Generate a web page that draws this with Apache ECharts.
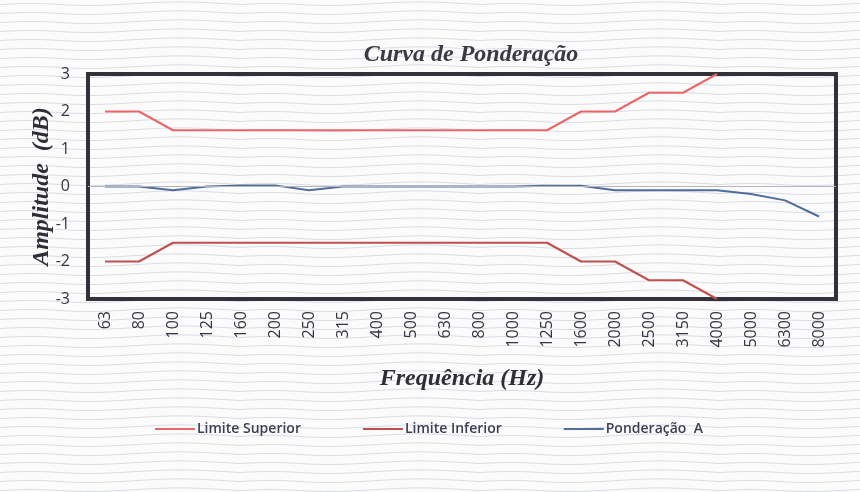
<!DOCTYPE html>
<html>
<head>
<meta charset="utf-8">
<script src="https://cdn.jsdelivr.net/npm/echarts@6/dist/echarts.min.js"></script>
<style>
  html, body { margin: 0; padding: 0; }
  body {
    width: 860px; height: 492px; overflow: hidden;
    background-color: #fbfbfc;
    background-image: url("data:image/svg+xml;utf8,<svg xmlns='http://www.w3.org/2000/svg' width='240' height='9'><path d='M0 4.5 C 60 1, 60 8, 120 4.5 S 180 1, 240 4.5' fill='none' stroke='%23d9dbe3' stroke-width='1'/></svg>");
  }
  #chart { width: 860px; height: 492px; }
</style>
</head>
<body>
<div id="chart"></div>
<script>
// Frequência (Hz) bands
const frequencies = ['63','80','100','125','160','200','250','315','400','500','630','800','1000','1250','1600','2000','2500','3150','4000','5000','6300','8000'];
// Tolerance limits (dB)
const limiteSuperior = [2, 2, 1.5, 1.5, 1.5, 1.5, 1.5, 1.5, 1.5, 1.5, 1.5, 1.5, 1.5, 1.5, 2, 2, 2.5, 2.5, 3, null, null, null];
const limiteInferior = [-2, -2, -1.5, -1.5, -1.5, -1.5, -1.5, -1.5, -1.5, -1.5, -1.5, -1.5, -1.5, -1.5, -2, -2, -2.5, -2.5, -3, null, null, null];
// Measured A-weighting deviation (dB)
const ponderacaoA = [0, 0, -0.1, 0, 0.03, 0.03, -0.1, 0, 0, 0, 0, 0, 0, 0.02, 0.02, -0.1, -0.1, -0.1, -0.1, -0.2, -0.37, -0.8];
const yTicks = [-3, -2, -1, 0, 1, 2, 3];

const serif = '"Liberation Serif", "DejaVu Serif", serif';
const sans = '"Open Sans", "Noto Sans", sans-serif';

const chart = echarts.init(document.getElementById('chart'), null, { renderer: 'canvas' });
chart.setOption({
  backgroundColor: 'transparent',
  animation: false,
  title: {
    text: 'Curva de Ponderação',
    left: 466, top: 38, textAlign: 'center',
    textStyle: { fontFamily: serif, fontStyle: 'italic', fontWeight: 'bold', fontSize: 24, color: '#3a3a44' }
  },
  legend: {
    top: 417, left: 150,
    itemWidth: 40, itemHeight: 2, itemGap: 62,
    icon: 'rect',
    textStyle: { fontFamily: sans, fontSize: 14, fontWeight: 600, color: '#3a3f52', padding: [0, 0, 0, -3] },
    data: ['Limite Superior', 'Limite Inferior', 'Ponderação  A']
  },
  grid: {
    left: 88, right: 24, top: 74, height: 225,
    show: true, borderColor: '#33323a', borderWidth: 4, backgroundColor: 'transparent'
  },
  xAxis: {
    type: 'category',
    data: frequencies,
    boundaryGap: true,
    axisLine: { show: false },
    axisTick: { show: false },
    axisLabel: { rotate: 90, margin: 12, fontFamily: sans, fontSize: 16, color: '#35353d' },
    name: 'Frequência (Hz)',
    nameLocation: 'middle', nameGap: 68,
    nameTextStyle: { fontFamily: serif, fontStyle: 'italic', fontWeight: 'bold', fontSize: 24, color: '#2e2e36' },
    splitLine: { show: false }
  },
  yAxis: {
    type: 'value',
    min: yTicks[0], max: yTicks[yTicks.length - 1], interval: 1,
    axisLine: { show: false },
    axisTick: { show: false },
    axisLabel: { margin: 18, fontFamily: sans, fontSize: 16, color: '#35353d' },
    splitLine: { show: false },
    name: 'Amplitude  (dB)',
    nameLocation: 'middle', nameGap: 34, nameMoveOverlap: false,
    nameTextStyle: { fontFamily: serif, fontStyle: 'italic', fontWeight: 'bold', fontSize: 24, color: '#2e2e36' }
  },
  series: [
    {
      name: 'Limite Superior', type: 'line', data: limiteSuperior,
      symbol: 'none', connectNulls: false,
      lineStyle: { color: '#e8686a', width: 2 }, itemStyle: { color: '#e8686a' }
    },
    {
      name: 'Limite Inferior', type: 'line', data: limiteInferior,
      symbol: 'none', connectNulls: false,
      lineStyle: { color: '#c0504d', width: 2 }, itemStyle: { color: '#c0504d' }
    },
    {
      name: 'Ponderação  A', type: 'line', data: ponderacaoA,
      symbol: 'none',
      lineStyle: { color: '#4f6e9c', width: 2 }, itemStyle: { color: '#4f6e9c' },
      markLine: {
        silent: true, symbol: 'none', label: { show: false },
        lineStyle: { color: '#b4b6bc', width: 1, type: 'solid' },
        data: [{ yAxis: 0 }]
      },
      z: 3
    }
  ]
});
</script>
</body>
</html>
